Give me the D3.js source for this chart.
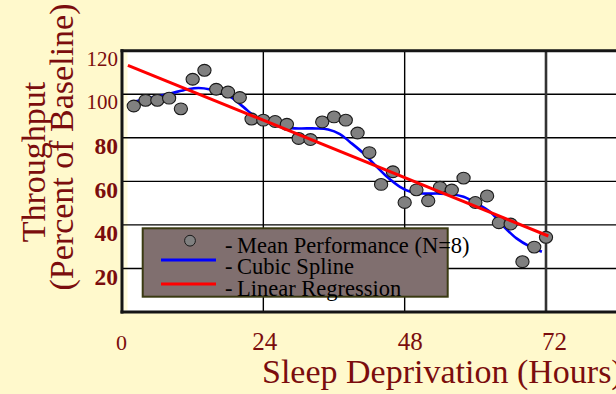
<!DOCTYPE html>
<html>
<head>
<meta charset="utf-8">
<script src="https://cdn.jsdelivr.net/npm/d3@7"></script>
<style>
  html, body { margin: 0; padding: 0; background: #FFF9CC; }
  svg { display: block; }
</style>
</head>
<body>
<svg id="chart" width="616" height="394"></svg>
<script>
// ---------- data ----------
const hours = [2, 4, 6, 8, 10, 12, 14, 16, 18, 20, 22, 24, 26, 28, 30, 32, 34, 36,
               38, 40, 42, 44, 46, 48, 50, 52, 54, 56, 58, 60, 62, 64, 66, 68, 70, 72];
const meanPerformance = [94.6, 97.2, 97.2, 98.2, 93.3, 106.9, 111.0, 102.3, 101.0, 98.5,
                         88.6, 88.1, 87.5, 86.2, 79.7, 79.2, 87.3, 89.6,
                         88.1, 82.2, 73.2, 58.6, 64.4, 50.3, 56.1, 51.1, 57.3, 56.0,
                         61.5, 50.3, 53.3, 41.0, 40.4, 23.1, 29.8, 34.3];
const splineHours  = [2, 5, 8, 11, 13, 15, 18, 20.6, 22.3, 24.6, 27.4, 30, 33, 35, 37, 38.7,
                      41, 43, 45, 47.2, 49, 51, 53.5, 56, 58, 60.2, 62.5, 64.7, 67, 69.3, 71.3];
const splineValues = [96.5, 98.5, 100.2, 102.2, 102.9, 102.2, 99.5, 94.2, 90.4, 87.3, 84.7, 84.3,
                      84.3, 83.8, 81.7, 78.1, 72.9, 67.4, 62.1, 57.5, 55.2, 54.4, 54.4, 54.1,
                      52.9, 49.9, 46.0, 39.6, 33.8, 30.0, 27.7];
const regressionHours  = [1, 72.4];
const regressionValues = [113.3, 34.9];
const xTicks = [0, 24, 48, 72];
const yTicks = [20, 40, 60, 80, 100, 120];
const gridX = [24, 48, 72];
const gridY = [20, 40, 60, 80, 100];
const legendLabels = ["-\u2009Mean Performance (N=8)", "-\u2009Cubic Spline", "-\u2009Linear Regression"];
const xTitle = "Sleep Deprivation (Hours)";
const yTitleLines = ["Throughput", "(Percent of Baseline)"];

// ---------- layout ----------
const W = 616, H = 394;
const pLeft = 122, pTop = 50.7, pBottom = 312, pRight = 616;
const textColor = "#7B0D0D";
const serif = "'Liberation Serif', 'Times New Roman', serif";

const x = d3.scaleLinear().domain([0, 72]).range([pLeft, 546]);
const y = d3.scaleLinear().domain([0, 120]).range([pBottom, pTop]);

const svg = d3.select("#chart");
svg.append("rect").attr("width", W).attr("height", H).attr("fill", "#FFF9CC");

// plot area
svg.append("rect").attr("x", pLeft).attr("y", pTop).attr("width", pRight - pLeft + 10)
   .attr("height", pBottom - pTop).attr("fill", "#ffffff");
svg.append("rect").attr("x", pLeft + 1.5).attr("y", pTop + 1.5).attr("width", 4)
   .attr("height", pBottom - pTop - 3).attr("fill", "#FFFBDC");

// gridlines
svg.append("g").selectAll("line").data(gridY).join("line")
   .attr("x1", pLeft).attr("x2", pRight + 5)
   .attr("y1", d => y(d)).attr("y2", d => y(d))
   .attr("stroke", "#000").attr("stroke-width", 1.4);
svg.append("g").selectAll("line").data(gridX).join("line")
   .attr("x1", d => x(d)).attr("x2", d => x(d))
   .attr("y1", pTop).attr("y2", pBottom)
   .attr("stroke", d => d === 72 ? "#333" : "#000")
   .attr("stroke-width", d => d === 72 ? 2.6 : 1.4);

// frame
const frame = svg.append("g").attr("stroke", "#151515").attr("stroke-width", 3).attr("fill", "none");
frame.append("line").attr("x1", pLeft - 1.5).attr("x2", pRight + 5).attr("y1", pTop).attr("y2", pTop);
frame.append("line").attr("x1", pLeft).attr("x2", pLeft).attr("y1", pTop - 1.5).attr("y2", pBottom + 1.5);
frame.append("line").attr("x1", pLeft - 1.5).attr("x2", pRight + 5).attr("y1", pBottom).attr("y2", pBottom);

// cubic spline (blue)
const line = d3.line().x(d => x(d[0])).y(d => y(d[1])).curve(d3.curveCatmullRom.alpha(0.5));
svg.append("path").datum(splineHours.map((h, i) => [h, splineValues[i]]))
   .attr("d", line).attr("fill", "none").attr("stroke", "#0000FF").attr("stroke-width", 2.6);

// data points
svg.append("g").selectAll("ellipse").data(hours.map((h, i) => [h, meanPerformance[i]])).join("ellipse")
   .attr("cx", d => x(d[0])).attr("cy", d => y(d[1]))
   .attr("rx", 6.6).attr("ry", 5.9)
   .attr("fill", "#808080").attr("stroke", "#1a1a1a").attr("stroke-width", 1.1);

// linear regression (red)
svg.append("path").datum(regressionHours.map((h, i) => [h, regressionValues[i]]))
   .attr("d", d3.line().x(d => x(d[0])).y(d => y(d[1])))
   .attr("fill", "none").attr("stroke", "#FF0000").attr("stroke-width", 3);

// axes (labels only)
const xAxis = svg.append("g").attr("transform", `translate(0, 350)`)
   .call(d3.axisBottom(x).tickValues(xTicks).tickSize(0).tickPadding(0).tickFormat(d3.format("d")));
xAxis.select(".domain").remove();
xAxis.selectAll("text").attr("y", 0).attr("dy", 0)
   .attr("font-family", serif).attr("font-size", d => d === 0 ? 22 : 25).attr("fill", textColor)
   .attr("dx", d => d === 0 ? -1 : (d === 48 ? 5 : (d === 72 ? 8 : 1)));

const yAxis = svg.append("g").attr("transform", `translate(118, 0)`)
   .call(d3.axisLeft(y).tickValues(yTicks).tickSize(0).tickPadding(0).tickFormat(d3.format("d")));
yAxis.select(".domain").remove();
yAxis.selectAll("text").attr("x", 0).attr("dy", 0)
   .attr("y", d => d >= 100 ? 14.5 : 16)
   .attr("text-anchor", "end")
   .attr("font-family", serif)
   .attr("font-size", d => d >= 100 ? 21 : 23.5)
   .attr("font-weight", d => d >= 100 ? "normal" : "bold")
   .attr("fill", textColor);

// titles
svg.append("text").attr("x", 262).attr("y", 383)
   .attr("font-family", serif).attr("font-size", 34).attr("fill", textColor)
   .text(xTitle);
const yTitlePos = [[44.5, 162], [72.7, 147]];
svg.append("g").selectAll("text").data(yTitleLines).join("text")
   .attr("transform", (d, i) => `translate(${yTitlePos[i][0]},${yTitlePos[i][1]}) rotate(-90)`)
   .attr("text-anchor", "middle")
   .attr("font-family", serif).attr("font-size", 34).attr("fill", textColor)
   .text(d => d);

// legend
const lg = svg.append("g");
lg.append("rect").attr("x", 142.7).attr("y", 228.3).attr("width", 305).attr("height", 68.4)
  .attr("fill", "#806F6F").attr("stroke", "#3A3A12").attr("stroke-width", 2);
lg.append("circle").attr("cx", 190).attr("cy", 240.7).attr("r", 5.4)
  .attr("fill", "#808080").attr("stroke", "#1a1a1a").attr("stroke-width", 1);
lg.append("line").attr("x1", 161).attr("x2", 216).attr("y1", 260).attr("y2", 260)
  .attr("stroke", "#0000FF").attr("stroke-width", 3);
lg.append("line").attr("x1", 161).attr("x2", 216).attr("y1", 284).attr("y2", 284)
  .attr("stroke", "#FF0000").attr("stroke-width", 3);
const legendBaselines = [253.3, 274.3, 295.5];
lg.selectAll("text").data(legendLabels).join("text")
  .attr("x", 225).attr("y", (d, i) => legendBaselines[i])
  .attr("font-family", serif).attr("font-size", 22.5).attr("fill", "#000")
  .text(d => d);
</script>
</body>
</html>
